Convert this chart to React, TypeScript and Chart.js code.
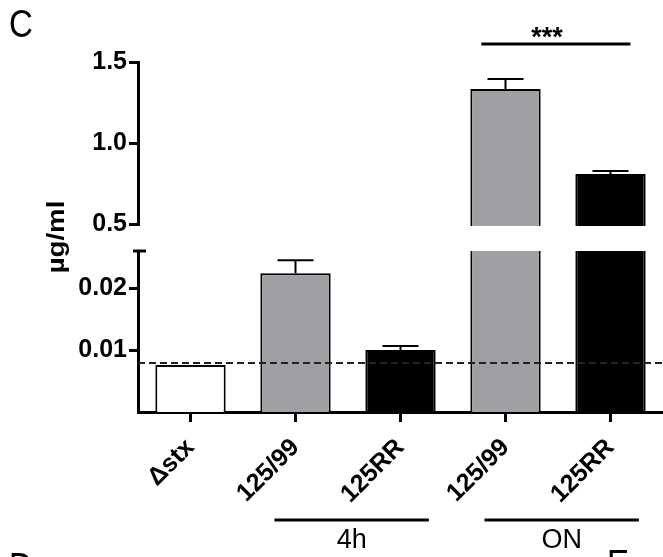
import React, { useEffect, useRef } from 'react';
import { Chart, registerables } from 'chart.js';
Chart.register(...registerables);

// ---- data ----
const categories = ['\u0394stx', '125/99', '125RR', '125/99', '125RR'];
const means = [0.0076, 0.0224, 0.01, 1.333, 0.809];
const errors = [0, 0.0021, 0.00065, 0.062, 0.018];
const barColors = ['#ffffff', '#a09fa4', '#000000', '#a09fa4', '#000000'];
const yTickValues = [0.01, 0.02, 0.5, 1.0, 1.5];
const yTickLabels = ['0.01', '0.02', '0.5', '1.0', '1.5'];
const detectionLimit = 0.0079;
const groupLabels = ['4h', 'ON'];
const groupFrom = [1, 3];
const groupTo = [2, 4];
const sigFrom = 3;
const sigTo = 4;
const sigText = '***';
const yTitle = '\u00b5g/ml';

// ---- broken axis (two segments) ----
const LOW_MAX = 0.026;
const HIGH_MIN = 0.5;
const HIGH_MAX = 1.5;
const LOW_SPAN = 161;
const GAP_SPAN = 27;
const HIGH_SPAN = 162;
const V_MAX = LOW_SPAN + GAP_SPAN + HIGH_SPAN;
const toV = (v: number) =>
  v <= LOW_MAX
    ? (v / LOW_MAX) * LOW_SPAN
    : LOW_SPAN + GAP_SPAN + ((v - HIGH_MIN) / (HIGH_MAX - HIGH_MIN)) * HIGH_SPAN;

const FONT = "Arial, 'Liberation Sans', Helvetica, sans-serif";

const overlay = {
  id: 'overlay',
  afterDatasetsDraw(chart: any) {
    const ctx = chart.ctx as CanvasRenderingContext2D;
    const xs = chart.scales.x;
    const ys = chart.scales.y;
    const area = chart.chartArea;
    const step = xs.getPixelForValue(1) - xs.getPixelForValue(0);
    ctx.save();
    // dashed detection limit
    const yd = ys.getPixelForValue(toV(detectionLimit));
    ctx.strokeStyle = '#222';
    ctx.lineWidth = 2;
    ctx.setLineDash([7, 4]);
    ctx.beginPath();
    ctx.moveTo(area.left, yd);
    ctx.lineTo(area.right, yd);
    ctx.stroke();
    ctx.setLineDash([]);
    // error bars
    ctx.strokeStyle = '#000';
    ctx.lineWidth = 2;
    means.forEach((m, i) => {
      if (!errors[i]) return;
      const x = xs.getPixelForValue(i);
      const y0 = ys.getPixelForValue(toV(m));
      const y1 = ys.getPixelForValue(toV(m + errors[i]));
      ctx.beginPath();
      ctx.moveTo(x, y0);
      ctx.lineTo(x, y1);
      ctx.moveTo(x - 18, y1);
      ctx.lineTo(x + 18, y1);
      ctx.stroke();
    });
    // axis break gap
    const yLowTop = ys.getPixelForValue(LOW_SPAN);
    const yHighBottom = ys.getPixelForValue(LOW_SPAN + GAP_SPAN);
    ctx.fillStyle = '#fff';
    ctx.fillRect(area.left - 4, yHighBottom + 2, area.right - area.left + 6, yLowTop - yHighBottom - 2);
    ctx.strokeStyle = '#000';
    ctx.lineWidth = 3;
    ctx.beginPath();
    ctx.moveTo(area.left - 5, yLowTop);
    ctx.lineTo(area.left + 8, yLowTop);
    ctx.stroke();
    // significance
    const xa = xs.getPixelForValue(sigFrom) - 0.23 * step;
    const xb = xs.getPixelForValue(sigTo) + 0.19 * step;
    ctx.lineWidth = 3;
    ctx.beginPath();
    ctx.moveTo(xa, 44);
    ctx.lineTo(xb, 44);
    ctx.stroke();
    ctx.fillStyle = '#000';
    ctx.font = `bold 27px ${FONT}`;
    ctx.textAlign = 'center';
    ctx.textBaseline = 'alphabetic';
    ctx.fillText(sigText, (xa + xb) / 2 - 9, 46);
    // group lines
    groupLabels.forEach((g, k) => {
      const ga = xs.getPixelForValue(groupFrom[k]) - 0.2 * step;
      const gb = xs.getPixelForValue(groupTo[k]) + 0.27 * step;
      ctx.lineWidth = 3;
      ctx.beginPath();
      ctx.moveTo(ga, 520);
      ctx.lineTo(gb, 520);
      ctx.stroke();
      ctx.font = `27px ${FONT}`;
      ctx.textAlign = 'center';
      ctx.fillText(g, (ga + gb) / 2, 548);
    });
    // y title
    ctx.save();
    ctx.translate(58, (area.top + area.bottom) / 2);
    ctx.rotate(-Math.PI / 2);
    ctx.scale(1.2, 1);
    ctx.font = `bold 23px ${FONT}`;
    ctx.textAlign = 'center';
    ctx.textBaseline = 'middle';
    ctx.fillText(yTitle, 0, 0);
    ctx.restore();
    // panel letters
    const letter = (t: string, x: number, top: number) => {
      ctx.save();
      ctx.translate(x, top + 27);
      ctx.scale(1, 1.15);
      ctx.font = `33px ${FONT}`;
      ctx.textAlign = 'left';
      ctx.textBaseline = 'alphabetic';
      ctx.fillText(t, 0, 0);
      ctx.restore();
    };
    letter('C', 9, 10);
    letter('D', 9, 553);
    letter('E', 607, 550);
    ctx.restore();
  },
};

export default function App() {
  const ref = useRef<HTMLCanvasElement>(null);
  useEffect(() => {
    const chart = new Chart(ref.current as HTMLCanvasElement, {
      type: 'bar',
      data: {
        labels: categories,
        datasets: [
          {
            data: means.map(toV),
            backgroundColor: barColors,
            borderColor: '#000',
            borderWidth: 2,
            barPercentage: 0.67,
            categoryPercentage: 1,
          },
        ],
      },
      options: {
        animation: false,
        responsive: false,
        maintainAspectRatio: false,
        layout: { padding: { top: 62, left: 0, right: 0, bottom: 0 } },
        plugins: { legend: { display: false }, tooltip: { enabled: false } },
        scales: {
          x: {
            grid: {
              display: true,
              drawOnChartArea: false,
              drawTicks: true,
              offset: false,
              tickLength: 10,
              tickWidth: 3,
              tickColor: '#000',
            },
            border: { display: true, width: 3, color: '#000' },
            ticks: {
              color: '#000',
              autoSkip: false,
              maxRotation: 45,
              minRotation: 45,
              padding: 11,
              labelOffset: 0,
              font: { family: FONT, size: 25, weight: 'bold' },
            },
            afterFit: (s: any) => {
              s.height = 145;
              s.paddingLeft = 0;
              s.paddingRight = 0;
            },
          },
          y: {
            min: 0,
            max: V_MAX,
            afterBuildTicks: (s: any) => {
              s.ticks = yTickValues.map((v) => ({ value: toV(v) }));
            },
            ticks: {
              color: '#000',
              padding: 2,
              font: { family: FONT, size: 25, weight: 'bold' },
              callback: (_v: any, i: number) => yTickLabels[i],
            },
            grid: {
              display: true,
              drawOnChartArea: false,
              drawTicks: true,
              tickLength: 9,
              tickWidth: 3,
              tickColor: '#000',
            },
            border: { display: true, width: 3, color: '#000' },
            afterFit: (s: any) => {
              s.width = 138;
              s.paddingTop = 0;
              s.paddingBottom = 0;
            },
          },
        },
      } as any,
      plugins: [overlay],
    });
    return () => chart.destroy();
  }, []);
  return (
    <div style={{ position: 'fixed', left: 0, top: 0, width: 663, height: 557, background: '#fff' }}>
      <canvas ref={ref} width={663} height={557} style={{ display: 'block', width: 663, height: 557 }} />
    </div>
  );
}
